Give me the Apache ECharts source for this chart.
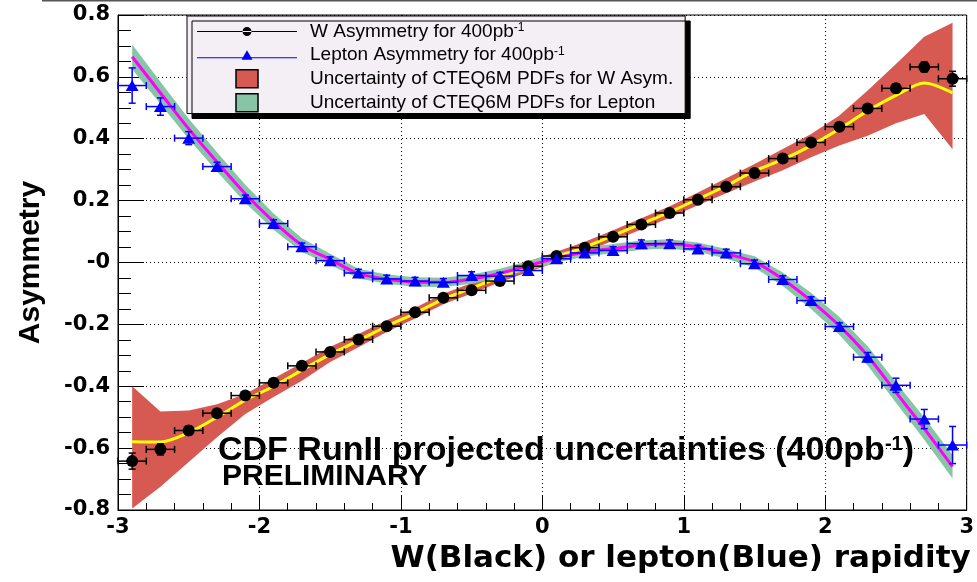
<!DOCTYPE html>
<html><head><meta charset="utf-8">
<script src="https://cdn.jsdelivr.net/npm/echarts@6/dist/echarts.min.js"></script>
<style>html,body{margin:0;padding:0;background:#fff}#c{width:977px;height:582px}</style>
</head><body><div id="c"></div>
<script>
// ---- data ----
const xs = [-2.9,-2.7,-2.5,-2.3,-2.1,-1.9,-1.7,-1.5,-1.3,-1.1,-0.9,-0.7,-0.5,-0.3,-0.1,0.1,0.3,0.5,0.7,0.9,1.1,1.3,1.5,1.7,1.9,2.1,2.3,2.5,2.7,2.9];
const binHalfWidth = 0.1;
const wAsym = [-0.642,-0.604,-0.543,-0.487,-0.43,-0.389,-0.334,-0.289,-0.249,-0.206,-0.161,-0.114,-0.09,-0.06,-0.012,0.021,0.048,0.083,0.123,0.16,0.203,0.245,0.289,0.336,0.388,0.439,0.498,0.563,0.632,0.594];
const wErr = [0.026,0.018,0.014,0.012,0.011,0.01,0.01,0.01,0.01,0.01,0.01,0.01,0.01,0.01,0.01,0.01,0.01,0.01,0.01,0.01,0.01,0.01,0.01,0.01,0.01,0.011,0.012,0.014,0.016,0.024];
const lepAsym = [0.572,0.504,0.402,0.31,0.206,0.126,0.051,0.006,-0.034,-0.053,-0.06,-0.064,-0.042,-0.044,-0.026,0.012,0.031,0.039,0.061,0.061,0.044,0.031,-0.004,-0.055,-0.123,-0.207,-0.306,-0.397,-0.506,-0.59];
const lepErr = [0.057,0.028,0.021,0.014,0.012,0.012,0.012,0.012,0.012,0.012,0.012,0.012,0.012,0.012,0.012,0.012,0.012,0.012,0.012,0.012,0.012,0.012,0.012,0.012,0.012,0.012,0.015,0.023,0.031,0.06];
const wTheory = [-0.579,-0.58,-0.55,-0.5,-0.445,-0.4,-0.348,-0.297,-0.252,-0.206,-0.164,-0.118,-0.083,-0.047,-0.014,0.018,0.05,0.087,0.125,0.163,0.205,0.248,0.296,0.333,0.378,0.432,0.49,0.54,0.58,0.548];
const wBandLow = [-0.795,-0.725,-0.645,-0.565,-0.49,-0.435,-0.382,-0.322,-0.274,-0.225,-0.181,-0.135,-0.1,-0.064,-0.031,0.001,0.033,0.07,0.107,0.145,0.185,0.224,0.262,0.298,0.34,0.378,0.41,0.45,0.48,0.366];
const wBandHigh = [-0.4,-0.482,-0.478,-0.458,-0.425,-0.375,-0.325,-0.272,-0.231,-0.187,-0.146,-0.101,-0.066,-0.03,0.003,0.035,0.067,0.104,0.143,0.182,0.226,0.272,0.318,0.367,0.415,0.475,0.556,0.642,0.73,0.775];
const lepTheory = [0.665,0.548,0.432,0.325,0.222,0.132,0.056,0.01,-0.036,-0.054,-0.063,-0.064,-0.054,-0.035,-0.01,0.014,0.034,0.045,0.056,0.06,0.05,0.028,0.002,-0.054,-0.124,-0.205,-0.302,-0.42,-0.537,-0.66];
const lepBandLow = [0.625,0.512,0.399,0.294,0.193,0.106,0.034,-0.008,-0.052,-0.069,-0.078,-0.079,-0.069,-0.05,-0.025,-0.001,0.019,0.03,0.041,0.045,0.035,0.012,-0.016,-0.076,-0.15,-0.234,-0.333,-0.453,-0.573,-0.698];
const lepBandHigh = [0.705,0.584,0.465,0.356,0.251,0.158,0.078,0.028,-0.02,-0.039,-0.048,-0.049,-0.039,-0.02,0.005,0.029,0.049,0.06,0.071,0.075,0.065,0.044,0.02,-0.032,-0.098,-0.176,-0.271,-0.387,-0.501,-0.622];
const xTickValues = [-3,-2,-1,0,1,2,3];
const xTickLabels = ['-3','-2','-1','0','1','2','3'];
const yTickValues = [-0.8,-0.6,-0.4,-0.2,0,0.2,0.4,0.6,0.8];
const yTickLabels = ['-0.8','-0.6','-0.4','-0.2','-0','0.2','0.4','0.6','0.8'];
const NAME_W = 'W Asymmetry for 400pb-1';
const NAME_L = 'Lepton Asymmetry for 400pb-1';
const NAME_WB = 'Uncertainty of CTEQ6M PDFs for W Asym.';
const NAME_LB = 'Uncertainty of CTEQ6M PDFs for Lepton';

// ---- styling ----
const RED = '#d65a52', GREEN = '#86c5a6', BLUE = '#0000ff';
function lookup(vals, labels, v) {
  for (let i = 0; i < vals.length; i++) if (Math.abs(vals[i] - v) < 1e-6) return labels[i];
  return '';
}
function errRender(color) {
  return function (params, api) {
    const x = api.value(0), y = api.value(1), e = api.value(2);
    const pl = api.coord([x - binHalfWidth, y]), pr = api.coord([x + binHalfWidth, y]);
    const pt = api.coord([x, y + e]), pb = api.coord([x, y - e]);
    const c = 3.5, st = {stroke: color, lineWidth: 1.5};
    const L = (x1, y1, x2, y2) => ({type: 'line', shape: {x1, y1, x2, y2}, style: st});
    return {type: 'group', children: [
      L(pl[0], pl[1], pr[0], pr[1]),
      L(pt[0], pt[1], pb[0], pb[1]),
      L(pl[0], pl[1] - c, pl[0], pl[1] + c),
      L(pr[0], pr[1] - c, pr[0], pr[1] + c),
      L(pt[0] - c, pt[1], pt[0] + c, pt[1]),
      L(pb[0] - c, pb[1], pb[0] + c, pb[1])
    ]};
  };
}
// band polygon: drawn once from all items (x, low, high) via the axis scales
function bandRender(color) {
  return function (params, api) {
    if (params.dataIndexInside !== 0) return null;
    const n = params.dataInsideLength, up = [], lo = [];
    for (let i = 0; i < n; i++) {
      const x = api.value(0, i);
      up.push(api.coord([x, api.value(2, i)]));
      lo.push(api.coord([x, api.value(1, i)]));
    }
    return {type: 'polygon', shape: {points: up.concat(lo.reverse())}, style: {fill: color, stroke: null}};
  };
}
const axisFont = {fontFamily: 'DejaVu Sans', fontWeight: 'bold', fontSize: 21, color: '#000'};
const chart = echarts.init(document.getElementById('c'), null, {renderer: 'canvas', width: 977, height: 582});
const legendRich = {
  t: {fontFamily: 'Liberation Sans', fontSize: 19, color: '#000', padding: [0, 0, 0, 8]},
  s: {fontFamily: 'Liberation Sans', fontSize: 12, color: '#000', verticalAlign: 'top', padding: [0, 0, 6, 0]}
};
chart.setOption({
  animation: false,
  backgroundColor: '#fff',
  grid: {left: 118, right: 4, top: 15, bottom: 72, show: true, borderColor: '#000', borderWidth: 1},
  legend: {
    orient: 'vertical', left: 187, top: 16, padding: [6, 12, 1, 10], itemWidth: 100, itemHeight: 18, itemGap: 4.5,
    backgroundColor: '#f4eff4', borderColor: '#000', borderWidth: 1,
    shadowColor: '#000', shadowBlur: 0, shadowOffsetX: 5, shadowOffsetY: 5,
    symbolKeepAspect: true, selectedMode: false,
    formatter: function (n) {
      if (n.endsWith('-1')) return '{t|' + n.slice(0, -2) + '}{s|-1}';
      return '{t|' + n + '}';
    },
    textStyle: {rich: legendRich},
    data: [
      {name: NAME_W, icon: 'path://M0,4.4H100V5.6H0Z M45.5,5a4.5,4.5 0 1,0 9,0a4.5,4.5 0 1,0 -9,0Z', itemStyle: {color: '#000'}},
      {name: NAME_L, icon: 'path://M0,7.4H100V8.6H0Z M50,0.5L55.5,10H44.5Z', itemStyle: {color: BLUE}},
      {name: NAME_WB, icon: 'path://M0,0H22V18H0Z', itemStyle: {color: RED, borderColor: '#000', borderWidth: 1.5}},
      {name: NAME_LB, icon: 'path://M0,0H22V18H0Z', itemStyle: {color: GREEN, borderColor: '#000', borderWidth: 1.5}}
    ]
  },
  xAxis: {
    type: 'value', min: -3, max: 3, interval: 1,
    axisLine: {show: true, onZero: false, lineStyle: {color: '#000', width: 1}},
    axisTick: {show: true, inside: true, length: 15, lineStyle: {color: '#000'}},
    minorTick: {show: true, splitNumber: 5, length: 7, lineStyle: {color: '#000'}},
    splitLine: {show: true, lineStyle: {color: '#000', type: [1, 3], width: 1}},
    axisLabel: Object.assign({margin: 7, showMinLabel: true, showMaxLabel: true,
      formatter: v => lookup(xTickValues, xTickLabels, v)}, axisFont),
    name: 'W(Black) or lepton(Blue) rapidity', nameLocation: 'end', nameGap: 4,
    nameTextStyle: {fontFamily: 'DejaVu Sans', fontWeight: 'bold', fontSize: 31, color: '#000',
      align: 'right', verticalAlign: 'top', padding: [33, 0, 0, 0]}
  },
  yAxis: {
    type: 'value', min: -0.8, max: 0.8, interval: 0.2,
    axisLine: {show: true, onZero: false, lineStyle: {color: '#000', width: 1}},
    axisTick: {show: true, inside: true, length: 26, lineStyle: {color: '#000'}},
    minorTick: {show: true, splitNumber: 4, length: 13, lineStyle: {color: '#000'}},
    splitLine: {show: true, lineStyle: {color: '#000', type: [1, 3], width: 1}},
    axisLabel: Object.assign({margin: 8, showMinLabel: true, showMaxLabel: true,
      formatter: v => lookup(yTickValues, yTickLabels, v)}, axisFont),
    name: 'Asymmetry', nameLocation: 'middle', nameRotate: 90, nameGap: 72,
    nameTextStyle: {fontFamily: 'Liberation Sans', fontWeight: 'bold', fontSize: 30, color: '#000'}
  },
  series: [
    {name: NAME_WB, type: 'custom', renderItem: bandRender(RED), encode: {x: 0, y: [1, 2]},
      data: xs.map((x, i) => [x, wBandLow[i], wBandHigh[i]]), itemStyle: {color: RED}, silent: true, z: 1},
    {name: NAME_LB, type: 'custom', renderItem: bandRender(GREEN), encode: {x: 0, y: [1, 2]},
      data: xs.map((x, i) => [x, lepBandLow[i], lepBandHigh[i]]), itemStyle: {color: GREEN}, silent: true, z: 1},
    {name: 'wTheory', type: 'line', data: xs.map((x, i) => [x, wTheory[i]]), symbol: 'none', smooth: 0.3,
      lineStyle: {color: '#ffff00', width: 3}, silent: true, z: 2},
    {name: 'lepTheory', type: 'line', data: xs.map((x, i) => [x, lepTheory[i]]), symbol: 'none', smooth: 0.3,
      lineStyle: {color: '#ff00ff', width: 3}, silent: true, z: 2},
    {name: 'wErr', type: 'custom', renderItem: errRender('#000'), encode: {x: 0, y: 1},
      data: xs.map((x, i) => [x, wAsym[i], wErr[i]]), silent: true, z: 3},
    {name: 'lErr', type: 'custom', renderItem: errRender(BLUE), encode: {x: 0, y: 1},
      data: xs.map((x, i) => [x, lepAsym[i], lepErr[i]]), silent: true, z: 3},
    {name: NAME_W, type: 'line', data: xs.map((x, i) => [x, wAsym[i]]), symbol: 'circle', symbolSize: 12, showSymbol: true,
      lineStyle: {width: 0, opacity: 0}, itemStyle: {color: '#000'}, silent: true, z: 4},
    {name: NAME_L, type: 'line', data: xs.map((x, i) => [x, lepAsym[i]]), symbol: 'triangle', symbolSize: [13, 11], showSymbol: true,
      lineStyle: {width: 0, opacity: 0}, itemStyle: {color: BLUE}, silent: true, z: 5}
  ],
  graphic: [
    {type: 'line', shape: {x1: 42, y1: 0.5, x2: 977, y2: 0.5}, style: {stroke: '#555', lineWidth: 2}, silent: true},
    {type: 'text', left: 218, top: 434, silent: true, style: {
      text: '{a|CDF RunII projected uncertainties (400pb}{s|-1}{a|)}',
      rich: {
        a: {fontFamily: 'Liberation Sans', fontWeight: 'bold', fontSize: 34, fill: '#000'},
        s: {fontFamily: 'Liberation Sans', fontWeight: 'bold', fontSize: 20, fill: '#000', verticalAlign: 'top'}
      }}},
    {type: 'text', left: 222, top: 462, silent: true, style: {
      text: 'PRELIMINARY', fontFamily: 'Liberation Sans', fontWeight: 'bold', fontSize: 30, fill: '#000'}}
  ]
});
</script></body></html>
